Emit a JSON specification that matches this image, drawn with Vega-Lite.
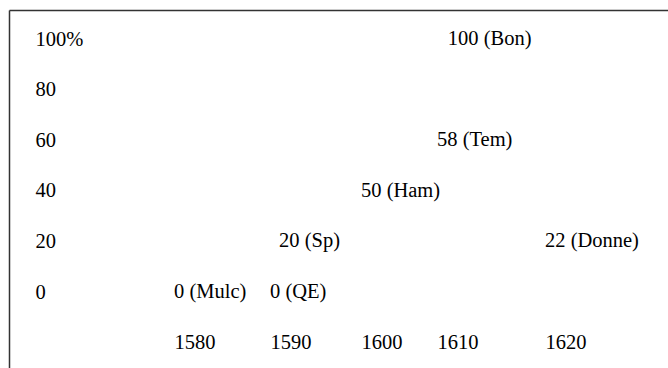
{
  "$schema": "https://vega.github.io/schema/vega-lite/v6.json",
  "width": 659,
  "height": 358,
  "autosize": {"type": "none"},
  "padding": {"left": 9, "top": 10, "right": 0, "bottom": 0},
  "background": "white",
  "config": {"view": {"stroke": null}, "font": "Liberation Serif"},
  "data": {
    "values": [
      {"label": "0 (Mulc)", "year": 1580, "level": 0},
      {"label": "0 (QE)", "year": 1590, "level": 0},
      {"label": "20 (Sp)", "year": 1591, "level": 20},
      {"label": "50 (Ham)", "year": 1600, "level": 40},
      {"label": "58 (Tem)", "year": 1610, "level": 60},
      {"label": "100 (Bon)", "year": 1611, "level": 100},
      {"label": "22 (Donne)", "year": 1620, "level": 20}
    ]
  },
  "mark": {"type": "text", "align": "left", "baseline": "middle", "font": "Liberation Serif", "fontSize": 20.5, "color": "#000000"},
  "encoding": {
    "x": {
      "field": "year",
      "type": "quantitative",
      "scale": {
        "type": "linear",
        "domain": [1562.8, 1580, 1590, 1600, 1610, 1620, 1631.4],
        "range": [0, 165, 261, 352, 428, 536, 659],
        "nice": false,
        "zero": false
      },
      "axis": {
        "orient": "top",
        "title": null,
        "domain": true,
        "domainColor": "#333333",
        "domainWidth": 1.5,
        "ticks": false,
        "grid": false,
        "values": [1580, 1590, 1600, 1610, 1620],
        "format": "d",
        "labelPadding": -332,
        "labelAlign": "left",
        "labelBaseline": "middle",
        "labelFont": "Liberation Serif",
        "labelFontSize": 20.5,
        "labelColor": "#000000",
        "labelFlush": false,
        "labelOverlap": false
      }
    },
    "y": {
      "field": "level",
      "type": "quantitative",
      "scale": {"domain": [-30, 111.5], "nice": false, "zero": false},
      "axis": {
        "orient": "left",
        "title": null,
        "domain": true,
        "domainColor": "#333333",
        "domainWidth": 1.5,
        "ticks": false,
        "grid": false,
        "values": [0, 20, 40, 60, 80, 100],
        "labelExpr": "datum.value == 100 ? '100%' : datum.label",
        "labelPadding": -26,
        "labelAlign": "left",
        "labelBaseline": "middle",
        "labelFont": "Liberation Serif",
        "labelFontSize": 20.5,
        "labelColor": "#000000",
        "labelFlush": false,
        "labelOverlap": false
      }
    },
    "text": {"field": "label"}
  }
}
